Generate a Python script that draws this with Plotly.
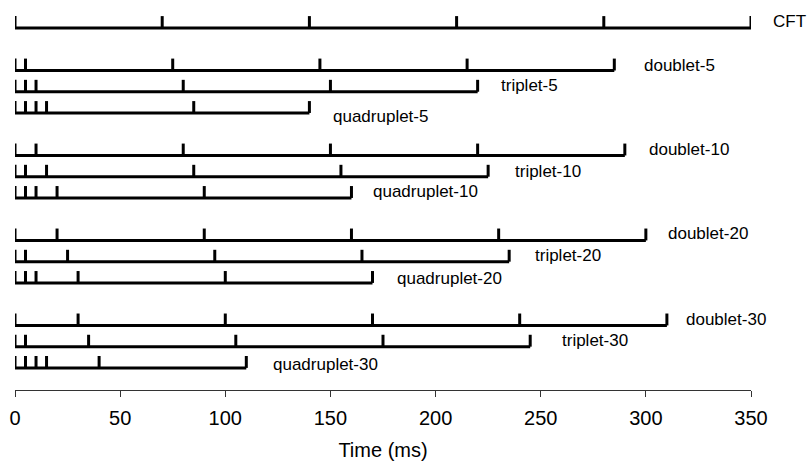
import plotly.graph_objects as go

# ---- data: pulse times (ms) for each stimulation train ----
labels = ["CFT",
          "doublet-5", "triplet-5", "quadruplet-5",
          "doublet-10", "triplet-10", "quadruplet-10",
          "doublet-20", "triplet-20", "quadruplet-20",
          "doublet-30", "triplet-30", "quadruplet-30"]

cft = [0, 70, 140, 210, 280, 350]
doublet_5 = [0, 5, 75, 145, 215, 285]
triplet_5 = [0, 5, 10, 80, 150, 220]
quadruplet_5 = [0, 5, 10, 15, 85, 140]
doublet_10 = [0, 10, 80, 150, 220, 290]
triplet_10 = [0, 5, 15, 85, 155, 225]
quadruplet_10 = [0, 5, 10, 20, 90, 160]
doublet_20 = [0, 20, 90, 160, 230, 300]
triplet_20 = [0, 5, 25, 95, 165, 235]
quadruplet_20 = [0, 5, 10, 30, 100, 170]
doublet_30 = [0, 30, 100, 170, 240, 310]
triplet_30 = [0, 5, 35, 105, 175, 245]
quadruplet_30 = [0, 5, 10, 15, 40, 110]

trains = [cft,
          doublet_5, triplet_5, quadruplet_5,
          doublet_10, triplet_10, quadruplet_10,
          doublet_20, triplet_20, quadruplet_20,
          doublet_30, triplet_30, quadruplet_30]

x_ticks = [0, 50, 100, 150, 200, 250, 300, 350]

# ---- layout helpers (positions / styles) ----
row_y = [0, -2, -3, -4, -6, -7, -8, -10, -11, -12, -14, -15, -16]
pulse_h = 0.56
label_gap_px = [20, 28, 21, 22, 22, 25, 20, 20, 24, 23, 17, 30, 25]
label_dy_px = [0, -2, 0, -10, -1, -1, 0, 0, 0, -2, -1, 0, -3]

FONT = "Liberation Sans, Arial, Helvetica, sans-serif"

fig = go.Figure()
for times, y0 in zip(trains, row_y):
    xs, ys = [times[0], times[-1], None], [y0, y0, None]
    for t in times:
        xs += [t, t, None]
        ys += [y0, y0 + pulse_h, None]
    fig.add_trace(go.Scatter(x=xs, y=ys, mode="lines",
                             line=dict(color="black", width=3),
                             hoverinfo="skip", showlegend=False,
                             cliponaxis=False))

for lab, times, y0, gap, dy in zip(labels, trains, row_y, label_gap_px, label_dy_px):
    fig.add_annotation(x=times[-1], y=y0, text=lab, showarrow=False,
                       xanchor="left", yanchor="bottom",
                       xshift=gap, yshift=-5 + dy,
                       font=dict(family=FONT, size=17, color="black"))

fig.update_layout(
    width=807, height=464,
    margin=dict(l=15, r=56, t=11, b=74),
    paper_bgcolor="white", plot_bgcolor="white",
    xaxis=dict(range=[0, 350], tickvals=x_ticks, automargin=False,
               showgrid=False, zeroline=False,
               showline=True, linecolor="#333", linewidth=1,
               ticks="outside", ticklen=6, tickcolor="#333", tickwidth=1,
               ticklabelstandoff=4,
               tickfont=dict(family=FONT, size=20, color="black"),
               title=dict(text="Time (ms)", standoff=14,
                          font=dict(family=FONT, size=20, color="black"))),
    yaxis=dict(range=[-17.04, 0.8], visible=False, showgrid=False,
               zeroline=False),
)

fig.write_html("out.html")
